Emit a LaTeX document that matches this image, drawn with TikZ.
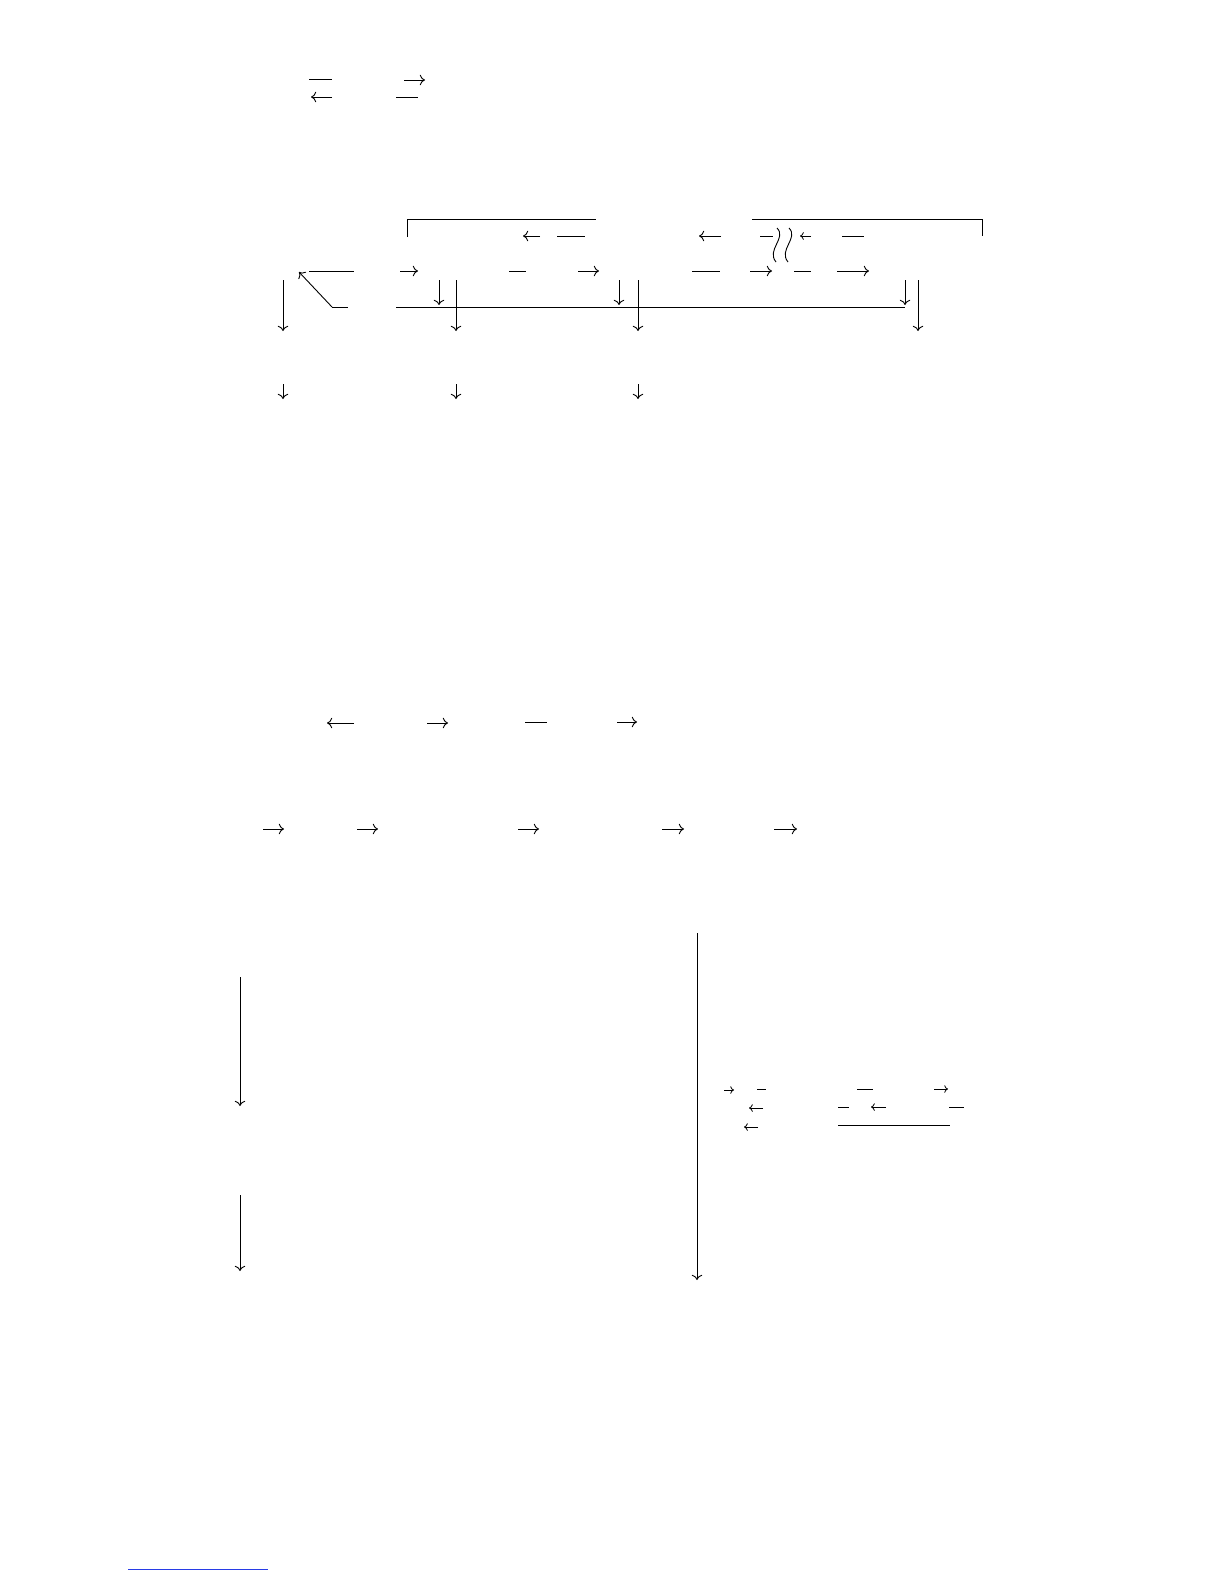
\documentclass[tikz,border=0pt]{standalone}
\usetikzlibrary{arrows.meta}
\tikzset{
  ln/.style={line width=0.45pt},
  ar/.style={line width=0.45pt,-{Computer Modern Rightarrow[length=2.6pt,width=5.2pt]}},
  sar/.style={line width=0.4pt,-{Computer Modern Rightarrow[length=1.9pt,width=3.8pt]}},
}
\begin{document}
\begin{tikzpicture}[x=0.5pt,y=-0.5pt]
\useasboundingbox (0,0) rectangle (1224,1584);
% top
\draw[ln] (309,79) -- (332,79);
\draw[ar] (332,97) -- (311,97);
\draw[ar] (404,80) -- (425,80);
\draw[ln] (396,97) -- (418,97);
% brackets
\draw[ln] (407,237) -- (407,219) -- (596,219);
\draw[ln] (752,219) -- (982,219) -- (982,236);
\draw[ar] (540,236) -- (523,236);
\draw[ln] (557,236) -- (585,236);
\draw[ar] (721,236) -- (699,236);
\draw[ln] (760,236) -- (773,236);
\draw[ln] (777,228) .. controls (787,238) and (766,250) .. (776,262);
\draw[ln] (789,228) .. controls (799,238) and (778,250) .. (788,262);
\draw[sar] (811,236) -- (800,236);
\draw[ln] (842,236) -- (864,236);
% row 271
\draw[ln] (309,271) -- (354,271);
\draw[ar] (332,307) -- (299,272);
\draw[ln] (332,307) -- (348,307);
\draw[ar] (400,271) -- (418,271);
\draw[ln] (509,271) -- (526,271);
\draw[ar] (578,271) -- (599,271);
\draw[ln] (692,271) -- (720,271);
\draw[ar] (750,271) -- (772,271);
\draw[ln] (794,271) -- (811,271);
\draw[ar] (837,271) -- (869,271);
% verticals
\draw[ar] (283,280) -- (283,331);
\draw[ar] (439,280) -- (439,305);
\draw[ar] (456,280) -- (456,331);
\draw[ar] (619,280) -- (619,305);
\draw[ar] (638,280) -- (638,331);
\draw[ar] (905,280) -- (905,305);
\draw[ar] (918,280) -- (918,331);
\draw[ln] (396,307) -- (905,307);
\draw[ar] (283,384) -- (283,399);
\draw[ar] (456,384) -- (456,399);
\draw[ar] (638,384) -- (638,399);
% row 723
\draw[ar] (354,723) -- (327,723);
\draw[ar] (427,723) -- (448,723);
\draw[ln] (525,722) -- (547,722);
\draw[ar] (617,722) -- (637,722);
% row 829
\draw[ar] (263,829) -- (284,829);
\draw[ar] (357,829) -- (378,829);
\draw[ar] (518,829) -- (539,829);
\draw[ar] (662,829) -- (684,829);
\draw[ar] (774,829) -- (797,829);
% long verticals
\draw[ar] (240,977) -- (240,1106);
\draw[ar] (240,1195) -- (240,1271);
\draw[ar] (697,933) -- (697,1280);
% small rows
\draw[sar] (724,1090) -- (734,1090);
\draw[ln] (757,1089) -- (766,1089);
\draw[ln] (857,1089) -- (873,1089);
\draw[sar] (934,1089) -- (948,1089);
\draw[sar] (763,1108) -- (749,1108);
\draw[ln] (838,1107) -- (849,1107);
\draw[sar] (886,1107) -- (871,1107);
\draw[ln] (949,1107) -- (964,1107);
\draw[sar] (758,1127) -- (744,1127);
\draw[ln] (838,1125) -- (950,1125);
% bottom rule
\draw[line width=0.4pt,color={rgb,255:red,40;green,60;blue,230}] (128,1569) -- (268,1569);
\end{tikzpicture}
\end{document}
